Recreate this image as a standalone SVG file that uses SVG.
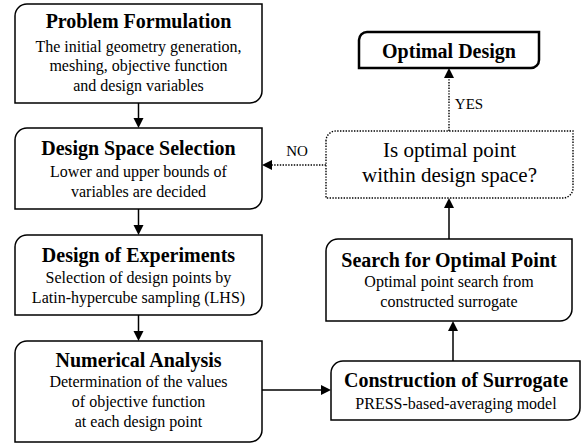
<svg xmlns="http://www.w3.org/2000/svg" width="582" height="443" viewBox="0 0 582 443">
<style>
.box{fill:#fff;stroke:#000;stroke-width:1.5}
.thick{stroke-width:2.5}
.dot{fill:#fff;stroke:#000;stroke-width:1.4;stroke-dasharray:1.4 1.4}
.c{fill:none;stroke:#000;stroke-width:1.5}
.cd{fill:none;stroke:#000;stroke-width:1.4;stroke-dasharray:1.4 1.4}
.h{fill:#000}
</style>
<rect width="582" height="443" fill="#fff"/>
<g id="problem-formulation">
<path class="box" d="M15,16 A12,12 0 0 1 27,4 H262 V91 A12,12 0 0 1 250,103 H15 Z"/>
<text x="138.5" y="28" font-family="Liberation Serif" font-size="20" font-weight="bold" text-anchor="middle">Problem Formulation</text>
<text x="138.5" y="52" font-family="Liberation Serif" font-size="16" text-anchor="middle">The initial geometry generation,</text>
<text x="138.5" y="71" font-family="Liberation Serif" font-size="16" text-anchor="middle">meshing, objective function</text>
<text x="138.5" y="91" font-family="Liberation Serif" font-size="16" text-anchor="middle">and design variables</text>
</g>
<g id="design-space-selection">
<path class="box" d="M15,140 A12,12 0 0 1 27,128 H262 V197 A12,12 0 0 1 250,209 H15 Z"/>
<text x="138.5" y="155" font-family="Liberation Serif" font-size="20" font-weight="bold" text-anchor="middle">Design Space Selection</text>
<text x="138.5" y="177" font-family="Liberation Serif" font-size="16" text-anchor="middle">Lower and upper bounds of</text>
<text x="138.5" y="197" font-family="Liberation Serif" font-size="16" text-anchor="middle">variables are decided</text>
</g>
<g id="design-of-experiments">
<path class="box" d="M15,247 A12,12 0 0 1 27,235 H262 V303 A12,12 0 0 1 250,315 H15 Z"/>
<text x="138.5" y="262" font-family="Liberation Serif" font-size="20" font-weight="bold" text-anchor="middle">Design of Experiments</text>
<text x="138.5" y="283" font-family="Liberation Serif" font-size="16" text-anchor="middle">Selection of design points by</text>
<text x="138.5" y="303" font-family="Liberation Serif" font-size="16" text-anchor="middle">Latin-hypercube sampling (LHS)</text>
</g>
<g id="numerical-analysis">
<path class="box" d="M15,353 A12,12 0 0 1 27,341 H262 V430 A12,12 0 0 1 250,442 H15 Z"/>
<text x="138.5" y="367" font-family="Liberation Serif" font-size="20" font-weight="bold" text-anchor="middle">Numerical Analysis</text>
<text x="138.5" y="387" font-family="Liberation Serif" font-size="16" text-anchor="middle">Determination of the values</text>
<text x="138.5" y="407" font-family="Liberation Serif" font-size="16" text-anchor="middle">of objective function</text>
<text x="138.5" y="427" font-family="Liberation Serif" font-size="16" text-anchor="middle">at each design point</text>
</g>
<g id="construction-of-surrogate">
<path class="box" d="M331,373 A12,12 0 0 1 343,361 H580 V408 A12,12 0 0 1 568,420 H331 Z"/>
<text x="456" y="387" font-family="Liberation Serif" font-size="20" font-weight="bold" text-anchor="middle">Construction of Surrogate</text>
<text x="456" y="409" font-family="Liberation Serif" font-size="16" text-anchor="middle">PRESS-based-averaging model</text>
</g>
<g id="search-for-optimal-point">
<path class="box" d="M326,251 A12,12 0 0 1 338,239 H572 V309 A12,12 0 0 1 560,321 H326 Z"/>
<text x="449" y="267" font-family="Liberation Serif" font-size="20" font-weight="bold" text-anchor="middle">Search for Optimal Point</text>
<text x="449" y="287" font-family="Liberation Serif" font-size="16" text-anchor="middle">Optimal point search from</text>
<text x="449" y="307" font-family="Liberation Serif" font-size="16" text-anchor="middle">constructed surrogate</text>
</g>
<g id="decision">
<path class="dot" d="M326,141 A10,10 0 0 1 336,131 H573 V188 A10,10 0 0 1 563,198 H326 Z"/>
<text x="449.5" y="157" font-family="Liberation Serif" font-size="21" text-anchor="middle">Is optimal point</text>
<text x="449.5" y="182" font-family="Liberation Serif" font-size="21" text-anchor="middle">within design space?</text>
</g>
<g id="optimal-design">
<path class="box thick" d="M359,40 A8,8 0 0 1 367,32 H539 V60 A8,8 0 0 1 531,68 H359 Z"/>
<text x="449" y="58" font-family="Liberation Serif" font-size="20" font-weight="bold" text-anchor="middle">Optimal Design</text>
</g>
<g id="connectors">
<line class="c" x1="138.5" y1="103" x2="138.5" y2="119"/>
<path class="h" d="M133.5,118 L143.5,118 L138.5,128 Z"/>
<line class="c" x1="138.5" y1="209" x2="138.5" y2="226"/>
<path class="h" d="M133.5,225 L143.5,225 L138.5,235 Z"/>
<line class="c" x1="138.5" y1="315" x2="138.5" y2="332"/>
<path class="h" d="M133.5,331 L143.5,331 L138.5,341 Z"/>
<line class="c" x1="262" y1="390" x2="322" y2="390"/>
<path class="h" d="M321,385 L321,395 L331,390 Z"/>
<line class="c" x1="453" y1="361" x2="453" y2="330"/>
<path class="h" d="M448,331 L458,331 L453,321 Z"/>
<line class="c" x1="449" y1="239" x2="449" y2="207"/>
<path class="h" d="M444,208 L454,208 L449,198 Z"/>
<line class="cd" x1="449" y1="131" x2="449" y2="77"/>
<path class="h" d="M444,78 L454,78 L449,68 Z"/>
<line class="cd" x1="326" y1="165" x2="271" y2="165"/>
<path class="h" d="M272,160 L272,170 L262,165 Z"/>
<text x="469" y="109" font-family="Liberation Serif" font-size="15" text-anchor="middle">YES</text>
<text x="297" y="156" font-family="Liberation Serif" font-size="15" text-anchor="middle">NO</text>
</g>
</svg>
